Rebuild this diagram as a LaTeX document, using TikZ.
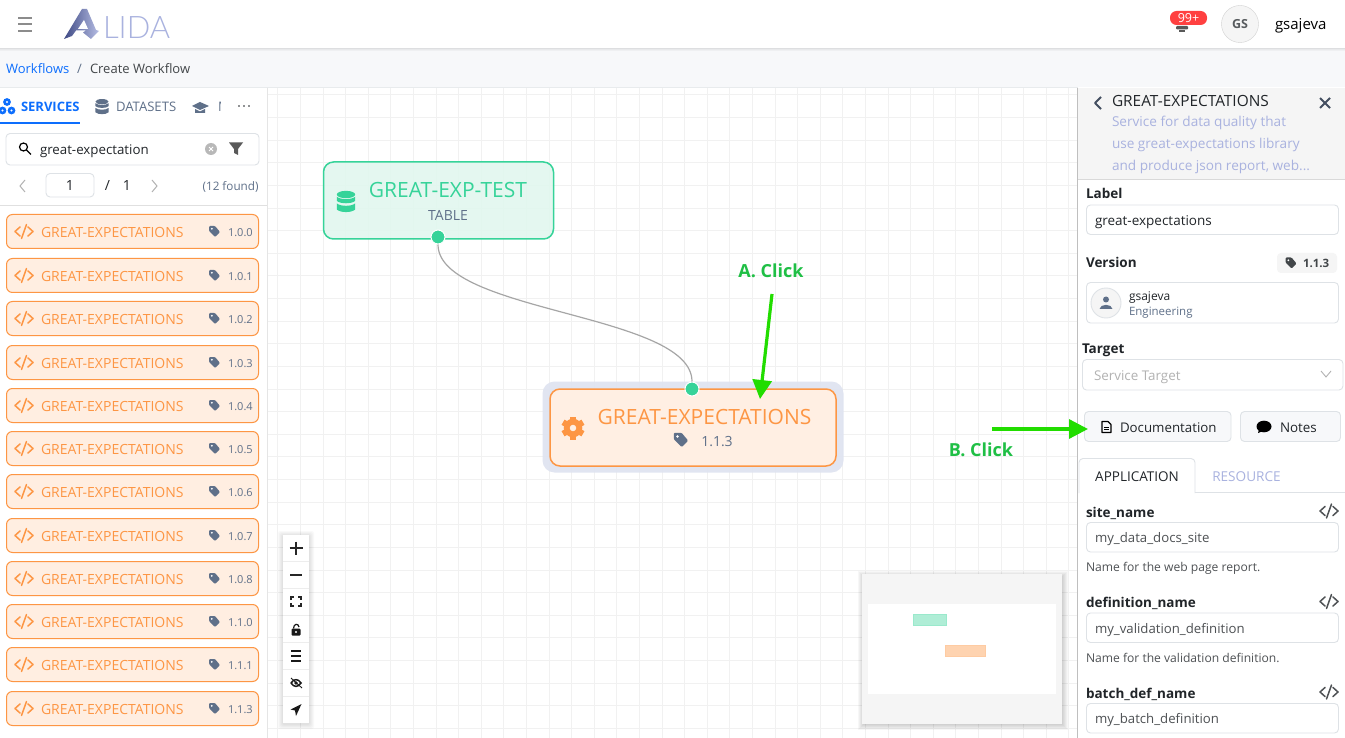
\documentclass[tikz,border=0pt]{standalone}
\usepackage{fontspec}
\setmainfont{Open Sans}
\newfontfamily\lidafont{Lato Light}
\usetikzlibrary{arrows.meta}
\definecolor{gridc}{HTML}{F1F1F1}
\definecolor{txt}{HTML}{212529}
\definecolor{slatec}{HTML}{5F7089}
\definecolor{bord}{HTML}{DEE2E6}
\definecolor{orng}{HTML}{FD9644}
\definecolor{orngfill}{HTML}{FFEEE1}
\definecolor{mint}{HTML}{36D399}
\definecolor{mintfill}{HTML}{E1F7EE}
\definecolor{blu}{HTML}{0D6EFD}
\definecolor{lav}{HTML}{A9B2DF}
\definecolor{hdr}{HTML}{F5F5F5}
\definecolor{band}{HTML}{F7F8FA}
\definecolor{halo}{HTML}{DFE3F0}
\definecolor{arrowg}{HTML}{22DD00}
\definecolor{clickg}{HTML}{1FBF45}
\definecolor{logod}{HTML}{3F4A85}
\newcommand{\fs}[1]{\fontsize{#1}{#1}\selectfont}
\tikzset{
  lbl/.style={inner sep=0pt,outer sep=0pt,anchor=west,text=txt,font=\fs{13.3},text height=10pt,text depth=0pt},
  ctr/.style={inner sep=0pt,outer sep=0pt,text=txt,font=\fs{14},text height=10pt,text depth=0pt},
  big/.style={ctr,font=\fs{21},text height=15pt},
  lblb/.style={lbl,font=\fs{13.5}\bfseries},
  hint/.style={lbl,font=\fs{12.1},text=txt!80},
  inbox/.style={draw=bord,fill=white,rounded corners=4pt,line width=.9pt},
  listbox/.style={draw=orng,fill=orngfill,rounded corners=6pt,line width=1pt},
  ico/.style={line width=1.4pt,line cap=round,line join=round},
  clicktxt/.style={inner sep=0pt,text=clickg,font=\fs{18}\bfseries,text height=13pt,text depth=0pt},
  greenarrow/.style={draw=arrowg,line width=3.2pt,-{Triangle[length=19pt,width=19pt]}},
}
\newcommand{\codeicon}[3]{% x y colour
  \draw[#3,ico,line width=1.5pt] (#1-4,#2-4.5) -- (#1-9,#2) -- (#1-4,#2+4.5)
    (#1+4,#2-4.5) -- (#1+9,#2) -- (#1+4,#2+4.5)
    (#1+2.5,#2-7) -- (#1-2.5,#2+7);}
\newcommand{\tagicon}[3]{% x y colour
  \fill[#3,rounded corners=1pt] (#1-5.5,#2-5.5) -- (#1+.5,#2-5.5) -- (#1+5.5,#2+.5) -- (#1+.5,#2+5.5) -- (#1-5.5,#2-.5) -- cycle;
  \fill[white] (#1-2.7,#2-2.7) circle (1);}
\newcommand{\dbicon}[4]{% x y colour scale
  \begin{scope}[shift={(#1,#2)},scale=#4]
  \fill[#3] (0,-6.5) ellipse (8 and 3.2);
  \fill[#3] (-8,-4.6) .. controls (-5,-1.8) and (5,-1.8) .. (8,-4.6) -- (8,-1) .. controls (5,1.8) and (-5,1.8) .. (-8,-1) -- cycle;
  \fill[#3] (-8,1.2) .. controls (-5,4) and (5,4) .. (8,1.2) -- (8,6.5) .. controls (5,9.5) and (-5,9.5) .. (-8,6.5) -- cycle;
  \end{scope}}
\newcommand{\softshadow}[4]{% x0 y0 x1 y1
  \foreach \gr in {5,4,3,2,1} \fill[black,opacity=.022,rounded corners=2pt] (#1-\gr,#2-\gr+1) rectangle (#3+\gr,#4+\gr+1);}
\newcommand{\gridlines}{%
  \foreach \k in {-1,...,34} \draw[gridc,line width=1.4pt] ({round(300+22.6*\k)+.5},87) -- ({round(300+22.6*\k)+.5},738);
  \foreach \k in {0,...,28} \draw[gridc,line width=1.4pt] (267,{round(728-22.63*\k)+.5}) -- (1078,{round(728-22.63*\k)+.5});}
\begin{document}
\begin{tikzpicture}[x=1pt,y=-1pt]
\useasboundingbox (0,0) rectangle (1345,738);
\fill[white] (0,0) rectangle (1345,738);
\gridlines
% top bar and breadcrumb band
\fill[band] (0,48) rectangle (1345,87);
\foreach \gr/\op in {0/.10,1/.06,2/.03} \fill[black,opacity=\op] (0,48+\gr) rectangle (1345,49+\gr);
\draw[bord!70,line width=.8pt] (0,87) -- (1345,87);
\foreach \yy in {18,24.5,31} \draw[black!45,line width=2pt] (18,\yy) -- (32,\yy);
% logo
\shade[left color=logod,right color=lav!85!white] (64,39) -- (82,9) -- (87,9) -- (96,30) -- (99,31) -- (91,39) -- (83,32.5) -- (86,30.5) -- (76,30.5) -- (72,36) -- cycle;
\fill[white] (78,29) -- (84,20) -- (88,29) -- cycle;
\node[lbl,anchor=base west,text=lav,font=\lidafont\fs{31},text height=22pt] (logotext) at (103,38.5) {LIDA};
\node[lbl,text=blu,font=\fs{13}] (crumb1) at (6,68.5) {Workflows};
\node[lbl,text=slatec,font=\fs{13}] (crumbsep) at (77,68.5) {/};
\node[lbl,text=txt!85,font=\fs{13}] (crumb2) at (90,68.5) {Create Workflow};
% notifications and user
\fill[black!65,rounded corners=1pt] (1176,26) rectangle (1188,29.5);
\fill[black!65] (1179,30) rectangle (1185,32);
\node[ctr,fill=red!75!white,text=white,font=\fs{12.5},rounded corners=6.5pt,minimum width=37pt,minimum height=14pt] (badge) at (1188.5,18) {99+};
\node[circle,draw=black!18,fill=hdr,minimum size=37pt,inner sep=0pt,text=txt!75,font=\fs{12.5}\bfseries] (avatar) at (1240,24) {GS};
\node[lbl,font=\fs{15},text=black] (uname) at (1275,25) {gsajeva};
% left panel
\fill[white] (0,88) rectangle (267,738);
\draw[black!10,line width=1pt] (267.5,88) -- (267.5,738);
\foreach \px/\py in {7/102,2.5/110.5,11.5/110.5} \fill[blu] (\px,\py) circle (3.9);
\foreach \px/\py in {7/102,2.5/110.5,11.5/110.5} \fill[white] (\px,\py) circle (1.2);
\node[lbl,text=blu,font=\fs{13}\bfseries] (tabsvc) at (21,107) {SERVICES};
\fill[blu] (0,122) rectangle (80,124);
\dbicon{102}{107}{slatec}{.82}
\node[lbl,text=slatec,font=\fs{13.1}] (tabdata) at (116,107) {DATASETS};
\fill[slatec] (192,106) -- (200,102) -- (209,106) -- (200,110) -- cycle;
\fill[slatec] (195,109) -- (200,111.5) -- (205,109) -- (205,113) -- (195,113) -- cycle;
\node[lbl,text=slatec,font=\fs{13.1}] (tabmodel) at (218,107) {M};
\fill[white] (221,88) rectangle (266,125);
\foreach \dx in {239,244,249} \fill[txt] (\dx,106) circle (.9);
\draw[inbox] (6,133.5) rectangle (259,165);
\draw[black,line width=1.2pt] (23.5,147) circle (4);
\draw[black,line width=1.3pt] (26.5,150) -- (31,154.5);
\node[lbl] (search) at (40,150) {great-expectation};
\fill[black!28] (211,149) circle (6);
\draw[white,line width=.8pt] (209,147) -- (213,151) (213,147) -- (209,151);
\fill[black!65] (229,142.5) -- (243,142.5) -- (238,149) -- (238,155) -- (234,153) -- (234,149) -- cycle;
\draw[black!30,line width=1pt] (25,180) -- (20,186) -- (25,192);
\draw[inbox] (46,173.5) rectangle (94,197);
\node[ctr] (page) at (70,186) {1};
\node[ctr] (pagesep) at (107.5,186) {/};
\node[ctr] (pages) at (127,186) {1};
\draw[black!30,line width=1pt] (152,180) -- (157,186) -- (152,192);
\node[lbl,anchor=east,font=\fs{11.7},text=slatec] (found) at (258.5,186) {(12 found)};
\draw[black!12,line width=1pt] (0,205.5) -- (267,205.5);
\foreach \n/\yc/\v in {a/231.5/1.0.0,b/275.5/1.0.1,c/318.5/1.0.2,d/362.5/1.0.3,e/405.5/1.0.4,f/448.5/1.0.5,g/491.5/1.0.6,h/535.5/1.0.7,i/578.5/1.0.8,j/621.5/1.1.0,k/664.5/1.1.1,l/708.5/1.1.3}{
  \draw[listbox] (6.5,\yc-17) rectangle (258.5,\yc+17);
  \codeicon{24}{\yc}{orng}
  \node[lbl,text=orng,font=\fs{14}] (item\n) at (41,\yc+1) {GREAT-EXPECTATIONS};
  \tagicon{214.5}{\yc}{slatec}
  \node[lbl,text=slatec,font=\fs{11}] (ver\n) at (228,\yc) {\v};
}
% right panel
\fill[white] (1078,87) rectangle (1345,738);
\fill[hdr] (1078,88) rectangle (1345,179);
\draw[black!25,line width=.9pt] (1077.5,88) -- (1077.5,738);
\draw[black!15,line width=.9pt] (1078,179.5) -- (1345,179.5);
\draw[slatec!70!black,line width=2pt,line join=round] (1101,97) -- (1095,103) -- (1101,109);
\node[lbl,font=\fs{15.4},text=txt] (ptitle) at (1112,102) {GREAT-EXPECTATIONS};
\draw[slatec!70!black,line width=2.1pt] (1320,98) -- (1330,108) (1330,98) -- (1320,108);
\node[lbl,text=lav,font=\fs{13.6}] (pd1) at (1112,122) {Service for data quality that};
\node[lbl,text=lav,font=\fs{13.6}] (pd2) at (1112,144) {use great-expectations library};
\node[lbl,text=lav,font=\fs{13.6}] (pd3) at (1112,165.5) {and produce json report, web...};
\node[lblb] (flabel) at (1086,194) {Label};
\draw[inbox] (1086.5,205) rectangle (1338.5,234.5);
\node[lbl,font=\fs{13.5}] (vlabel) at (1095,220.5) {great-expectations};
\node[lblb] (fversion) at (1086,263) {Version};
\fill[hdr,rounded corners=4pt] (1277,253) rectangle (1337,273);
\tagicon{1291}{263}{txt!85}
\node[lbl,font=\fs{11.5}\bfseries,text=txt!85] (vchip) at (1303,263) {1.1.3};
\draw[inbox] (1086.5,282.5) rectangle (1338.5,323);
\draw[bord,fill=hdr,line width=.9pt] (1106,303) circle (15);
\fill[slatec] (1106,299.5) circle (3);
\fill[slatec] (1099.5,309) .. controls (1100,303.5) and (1112,303.5) .. (1112.5,309) -- cycle;
\node[lbl,font=\fs{12}] (uname2) at (1129,296) {gsajeva};
\node[lbl,font=\fs{11.5},text=slatec] (dept) at (1129,311) {Engineering};
\node[lblb] (ftarget) at (1082,348) {Target};
\draw[inbox] (1082.5,359.5) rectangle (1343,390);
\node[lbl,text=black!30,font=\fs{13.4}] (vtarget) at (1094,375.5) {Service Target};
\draw[black!30,line width=.9pt] (1321,371) -- (1326,377) -- (1331,371);
\draw[inbox,fill=band] (1084.5,411.5) rectangle (1231,441.5);
\node[lbl] (bdoc) at (1120,427) {Documentation};
\draw[black,line width=1.1pt,line join=round] (1102,421.5) -- (1108,421.5) -- (1111,424.5) -- (1111,432.5) -- (1102,432.5) -- cycle;
\draw[black,line width=.9pt] (1104,427) -- (1109,427) (1104,429.7) -- (1109,429.7);
\draw[inbox,fill=band] (1240.5,411.5) rectangle (1340.5,441.5);
\fill[black] (1264,426.5) ellipse (7.5 and 5.8);
\fill[black] (1258,433) -- (1259.5,428) -- (1263,431) -- cycle;
\node[lbl,font=\fs{13.4}] (bnotes) at (1280,427) {Notes};
% tabs
\draw[bord,line width=.9pt] (1195,492.5) -- (1345,492.5);
\draw[bord,line width=.9pt,rounded corners=4pt] (1079,493) -- (1079,458.5) -- (1195,458.5) -- (1195,493);
\node[ctr,font=\fs{13.5}] (tabapp) at (1137,476) {APPLICATION};
\node[ctr,text=lav,font=\fs{13.6}] (tabres) at (1246.5,476) {RESOURCE};
\foreach \n/\ty/\lab/\val in {s/512/site\_name/my\_data\_docs\_site,p/602.5/definition\_name/my\_validation\_definition,q/693/batch\_def\_name/my\_batch\_definition}{
  \node[lblb] (f\n) at (1086,\ty) {\lab};
  \codeicon{1329}{\ty-1}{txt!80}
  \draw[inbox] (1086.5,\ty+10.5) rectangle (1338.5,\ty+40);
  \node[lbl,text=txt!80,font=\fs{13.2}] (v\n) at (1095,\ty+25.5) {\val};
}
\node[hint] (hs) at (1086,566) {Name for the web page report.};
\node[hint] (hp) at (1086,657) {Name for the validation definition.};
% canvas nodes
\node[draw=mint,fill=mintfill,fill opacity=.88,draw opacity=1,line width=1.5pt,rounded corners=10pt,minimum width=230pt,minimum height=77pt,inner sep=0pt] (source) at (438.5,200.5) {};
\dbicon{346}{202}{mint}{1.15}
\node[big,text=mint] (stitle) at (448,190.5) {GREAT-EXP-TEST};
\node[ctr,text=slatec,font=\fs{14}] (ssub) at (448,215.5) {TABLE};
\node[fill=halo,fill opacity=.92,rounded corners=12pt,minimum width=301pt,minimum height=91pt,inner sep=0pt] (haloN) at (693,427) {};
\node[draw=none,fill=white,rounded corners=10pt,minimum width=286pt,minimum height=77pt,inner sep=0pt] (targetbase) at (693,427.5) {};
\node[draw=orng,fill=orngfill,fill opacity=.9,draw opacity=1,line width=1.5pt,rounded corners=10pt,minimum width=286pt,minimum height=77pt,inner sep=0pt] (target) at (693,427.5) {};
\fill[orng,even odd rule] (573,428) circle (9.3) (573,428) circle (3.4);
\foreach \a in {0,60,...,300} \fill[orng,rotate around={\a:(573,428)}] (570,416.5) rectangle (576,421);
\node[big,text=orng] (ttitle) at (704.5,416.5) {GREAT-EXPECTATIONS};
\begin{scope}[shift={(681,440)},scale=1.3]
\tagicon{0}{0}{slatec}
\end{scope}
\node[ctr,text=slatec,font=\fs{14}] (tver) at (717,441.5) {1.1.3};
\node[circle,fill=mint,draw=white,line width=1pt,minimum size=14pt,inner sep=0pt] (dotA) at (438,237) {};
\node[circle,fill=mint,draw=white,line width=1pt,minimum size=14pt,inner sep=0pt] (dotB) at (692,389) {};
\draw[black!35,line width=1.2pt] (dotA.south) .. controls (438,313) and (692,313) .. (dotB.north);
% annotations
\node[clicktxt] (clickA) at (771,271.5) {A. Click};
\node[clicktxt] (clickB) at (981,449.5) {B. Click};
\coordinate (a0) at (772,294);
\coordinate (a1) at (760,399);
\coordinate (b0) at (992,429);
\coordinate (b1) at (1088,429);
\draw[greenarrow] (a0) -- (a1);
\draw[greenarrow] (b0) -- (b1);
% zoom toolbar
\softshadow{283}{535}{309}{723}
\fill[white] (283,535) rectangle (309,723);
\foreach \yy in {561.5,588.5,615.5,642.5,669.5,696.5} \draw[black!7,line width=.8pt] (283,\yy) -- (309,\yy);
\draw[black!85,line width=1.6pt] (289.5,548) -- (302.5,548) (296,541.5) -- (296,554.5);
\draw[black!85,line width=1.8pt] (290,575) -- (302,575);
\draw[black!85,line width=1.2pt] (291,600) -- (291,597) -- (294,597) (298,597) -- (301,597) -- (301,600) (301,603) -- (301,606) -- (298,606) (294,606) -- (291,606) -- (291,603);
\fill[black!90,rounded corners=1pt] (291.5,628.5) rectangle (300.5,635.5);
\draw[black!90,line width=1.2pt] (293.5,628.5) .. controls (293.5,623.5) and (298.5,623) .. (299,627);
\fill[white] (296,632) circle (1.2);
\draw[black!90,line width=1.4pt] (291,651) -- (301,651) (291,656) -- (301,656) (291,661) -- (301,661);
\draw[black!90,line width=1.5pt] (291,683) .. controls (294,678.5) and (298,678.5) .. (301,683) .. controls (298,687.5) and (294,687.5) .. (291,683);
\fill[black!90] (296,683) circle (1.8);
\draw[black!90,line width=.9pt] (291,678) -- (302,688);
\fill[black!90] (301.5,704) -- (296,716) -- (295,710.5) -- (290.5,709.5) -- cycle;
% minimap
\foreach \gr in {6,5,4,3,2,1} \fill[black,opacity=.03] (862-\gr+2,574-\gr+3) rectangle (1062+\gr,724+\gr);
\fill[hdr] (862,574) rectangle (1062,724);
\fill[white] (868,604) rectangle (1056,694);
\fill[mint!40!white,draw=mint!50!white,line width=.6pt] (913,614.5) rectangle (946,625);
\fill[orng!42!white,draw=orng!50!white,line width=.6pt] (945,645.5) rectangle (985,656);
\end{tikzpicture}
\end{document}
